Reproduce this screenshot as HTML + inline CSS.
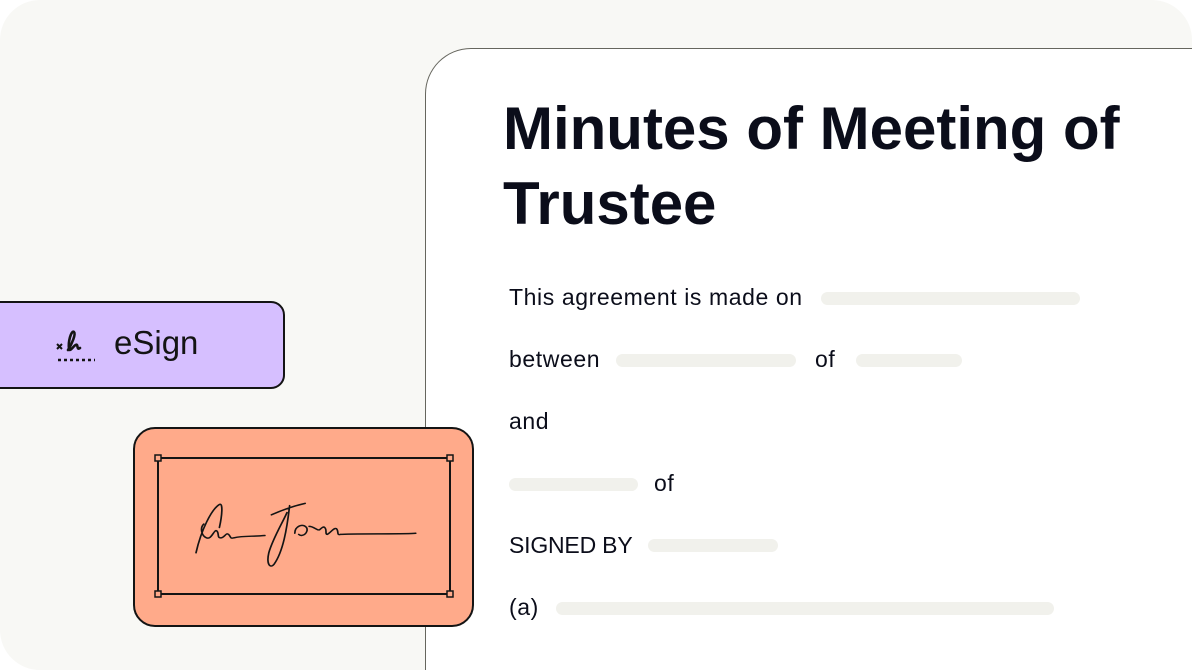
<!DOCTYPE html>
<html><head><style>
html,body{margin:0;width:1192px;height:670px;overflow:hidden}
body{background:#fff;position:relative;font-family:"Liberation Sans",sans-serif;color:#0b0d1a}
.bg{position:absolute;left:0;top:0;width:1192px;height:670px;background:#f8f8f5;border-radius:40px 40px 0 40px}
.doc{position:absolute;left:425px;top:48px;width:767px;height:622px;box-sizing:border-box;background:#fff;border:1.5px solid #66665e;border-right:none;border-bottom:none;border-radius:46px 0 0 0}
.t{position:absolute;left:503px;font-size:60px;font-weight:bold;letter-spacing:0;white-space:nowrap}
.l{position:absolute;left:509px;font-size:23px;white-space:nowrap;letter-spacing:0.6px}
.b{position:absolute;height:13px;background:#f1f1ec;border-radius:7px}
.es{position:absolute;left:-20px;top:301px;width:301px;height:84px;background:#d6bfff;border:2px solid #141414;border-radius:14px}
.or{position:absolute;left:133px;top:427px;width:337px;height:196px;background:#ffaa8a;border:2px solid #141414;border-radius:22px}
</style></head><body>
<div class="bg"></div>
<div class="doc"></div>
<div class="t" style="top:94px">Minutes of Meeting of</div>
<div class="t" style="top:169px">Trustee</div>
<div class="l" style="top:284px">This agreement is made on</div><div class="b" style="left:821px;top:292px;width:259px"></div>
<div class="l" style="top:346px">between</div><div class="b" style="left:616px;top:354px;width:180px"></div>
<div class="l" style="left:815px;top:346px">of</div><div class="b" style="left:856px;top:354px;width:106px"></div>
<div class="l" style="top:408px">and</div>
<div class="b" style="left:509px;top:478px;width:129px"></div><div class="l" style="left:654px;top:470px">of</div>
<div class="l" style="top:532px;letter-spacing:-0.2px">SIGNED BY</div><div class="b" style="left:648px;top:539px;width:130px"></div>
<div class="l" style="top:594px">(a)</div><div class="b" style="left:556px;top:602px;width:498px"></div>
<div class="es"></div>
<svg style="position:absolute;left:54px;top:322px" width="44" height="42" viewBox="0 0 44 42">
<path d="M3 22l5 5M8 22l-5 5" stroke="#141414" stroke-width="2"/>
<path d="M14 28c4-6 8-16 6-18-3-2-6 10-5 17 1 4 6-6 8-4 1 2 0 5 3 3" stroke="#141414" stroke-width="2.6" fill="none" stroke-linecap="round"/>
<path d="M4 38h37" stroke="#141414" stroke-width="2.5" stroke-dasharray="3 3"/>
</svg>
<div style="position:absolute;left:114px;top:324px;font-size:33px;color:#141414">eSign</div>
<div class="or"></div>
<svg style="position:absolute;left:150px;top:450px" width="308" height="152">
<rect x="8" y="8" width="292" height="136" fill="none" stroke="#141414" stroke-width="2"/>
<g fill="#ffaa8a" stroke="#141414" stroke-width="1.5"><rect x="5" y="5" width="6" height="6"/><rect x="297" y="5" width="6" height="6"/><rect x="5" y="141" width="6" height="6"/><rect x="297" y="141" width="6" height="6"/></g>
<g transform="translate(46 43) scale(1.3 1.15) translate(-46 -43)">
<path d="M46 95c4-20 12-38 18-42 3-2 2 10 0 20M52 70c-3 3-2 10 2 12 4 2 6-8 8-6s0 6 3 6c3 0 4-5 6-3s1 4 4 3c8-2 14-1 24-2M104 62c8-4 18-8 26-10M118 54c-2 20-5 40-12 51-3 4-6 0-4-10 3-12 10-25 14-35M122 78c0-6 6-9 9-5 2 4-3 9-6 6M133 72c4 0 6 4 8 3 2-2 3-3 4-2 2 2 0 6 2 6 3-2 5-6 7-5 2 2 0 6 3 5 8-1 50 0 58-1" stroke="#141414" stroke-width="1.3" fill="none" stroke-linecap="round"/>
</g>
</svg>
</body></html>
